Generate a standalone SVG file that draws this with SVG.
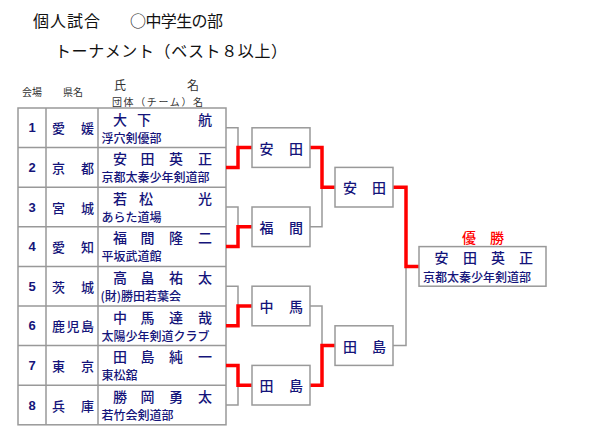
<svg xmlns="http://www.w3.org/2000/svg" width="600" height="440" viewBox="0 0 600 440">
<style>
  text { font-family: "Noto Sans CJK JP", "Noto Sans", sans-serif; dominant-baseline: central; }
  .title { font-size: 16px; fill: #111; }
  .hdr { font-size: 10px; fill: #333; }
  .hdr2 { font-size: 12px; fill: #333; }
  .num { font-family: "Liberation Sans", Arial, sans-serif; font-size: 13px; font-weight: bold; fill: #14147a; text-anchor: middle; }
  .pref { font-size: 13px; font-weight: 500; fill: #14147a; text-anchor: middle; }
  .nm { font-size: 14px; font-weight: 500; fill: #14147a; text-anchor: middle; }
  .team { font-size: 12px; font-weight: 500; fill: #14147a; }
  .win { font-size: 14px; font-weight: 500; fill: #ff0000; text-anchor: middle; }
  .cell { fill: #fff; stroke: #999; stroke-width: 1.5; }
  .box { fill: #fff; stroke: #999; stroke-width: 1.5; }
  .g { fill: none; stroke: #999; stroke-width: 1.5; }
  .r { fill: none; stroke: #ff0000; stroke-width: 3.5; }
</style>
<rect width="600" height="440" fill="#fff"/>

<g id="title">
  <text class="title" x="33" y="20" textLength="67">個人試合</text>
  <text class="title" x="130" y="20" textLength="93">○中学生の部</text>
  <text class="title" x="55" y="50" textLength="232">トーナメント（ベスト８以上）</text>
</g>

<g id="header">
  <text class="hdr" x="32" y="91" text-anchor="middle">会場</text>
  <text class="hdr" x="73" y="91" text-anchor="middle">県名</text>
  <text class="hdr2" x="120" y="84" text-anchor="middle">氏</text>
  <text class="hdr2" x="193" y="84" text-anchor="middle">名</text>
  <text class="hdr" x="112" y="101" textLength="91">団体（チーム）名</text>
</g>

<g id="table">
  <rect class="cell" x="18" y="108" width="208" height="316.8"/>
  <path class="g" d="M46 108V424.8M98 108V424.8M18 147.6H226M18 187.2H226M18 226.8H226M18 266.4H226M18 306H226M18 345.6H226M18 385.2H226"/>
</g>

<g id="row1">
  <text class="num" x="32" y="127.8">1</text>
  <text class="pref" x="58.5" y="127.8">愛</text><text class="pref" x="87.5" y="127.8">媛</text>
  <text class="nm" x="120" y="118.5">大</text><text class="nm" x="144" y="118.5">下</text><text class="nm" x="205" y="118.5">航</text>
  <text class="team" x="101.5" y="137">浮穴剣優部</text>
</g>
<g id="row2">
  <text class="num" x="32" y="167.4">2</text>
  <text class="pref" x="58.5" y="167.4">京</text><text class="pref" x="87.5" y="167.4">都</text>
  <text class="nm" x="120" y="158.1">安</text><text class="nm" x="147.5" y="158.1">田</text><text class="nm" x="176" y="158.1">英</text><text class="nm" x="205" y="158.1">正</text>
  <text class="team" x="101.5" y="176.6">京都太秦少年剣道部</text>
</g>
<g id="row3">
  <text class="num" x="32" y="207">3</text>
  <text class="pref" x="58.5" y="207">宮</text><text class="pref" x="87.5" y="207">城</text>
  <text class="nm" x="120" y="197.7">若</text><text class="nm" x="146" y="197.7">松</text><text class="nm" x="205" y="197.7">光</text>
  <text class="team" x="101.5" y="216.2">あらた道場</text>
</g>
<g id="row4">
  <text class="num" x="32" y="246.6">4</text>
  <text class="pref" x="58.5" y="246.6">愛</text><text class="pref" x="87.5" y="246.6">知</text>
  <text class="nm" x="120" y="237.3">福</text><text class="nm" x="147.5" y="237.3">間</text><text class="nm" x="176" y="237.3">隆</text><text class="nm" x="205" y="237.3">二</text>
  <text class="team" x="101.5" y="255.8">平坂武道館</text>
</g>
<g id="row5">
  <text class="num" x="32" y="286.2">5</text>
  <text class="pref" x="58.5" y="286.2">茨</text><text class="pref" x="87.5" y="286.2">城</text>
  <text class="nm" x="120" y="276.9">高</text><text class="nm" x="147.5" y="276.9">畠</text><text class="nm" x="176" y="276.9">祐</text><text class="nm" x="205" y="276.9">太</text>
  <text class="team" x="100.5" y="295.4">(財)勝田若葉会</text>
</g>
<g id="row6">
  <text class="num" x="32" y="325.8">6</text>
  <text class="pref" x="58.5" y="325.8">鹿</text><text class="pref" x="73" y="325.8">児</text><text class="pref" x="87.5" y="325.8">島</text>
  <text class="nm" x="120" y="316.5">中</text><text class="nm" x="147.5" y="316.5">馬</text><text class="nm" x="176" y="316.5">達</text><text class="nm" x="205" y="316.5">哉</text>
  <text class="team" x="101.5" y="335">太陽少年剣道クラブ</text>
</g>
<g id="row7">
  <text class="num" x="32" y="365.4">7</text>
  <text class="pref" x="58.5" y="365.4">東</text><text class="pref" x="87.5" y="365.4">京</text>
  <text class="nm" x="120" y="356.1">田</text><text class="nm" x="147.5" y="356.1">島</text><text class="nm" x="176" y="356.1">純</text><text class="nm" x="205" y="356.1">一</text>
  <text class="team" x="101.5" y="374.6">東松舘</text>
</g>
<g id="row8">
  <text class="num" x="32" y="405">8</text>
  <text class="pref" x="58.5" y="405">兵</text><text class="pref" x="87.5" y="405">庫</text>
  <text class="nm" x="120" y="395.7">勝</text><text class="nm" x="147.5" y="395.7">岡</text><text class="nm" x="176" y="395.7">勇</text><text class="nm" x="205" y="395.7">太</text>
  <text class="team" x="101.5" y="414.2">若竹会剣道部</text>
</g>

<g id="connectors">
  <path class="g" d="M226 127.8H238V147.6"/>
  <path class="g" d="M226 207H238V226.8"/>
  <path class="g" d="M226 286.2H238V306"/>
  <path class="g" d="M226 405H238V385.2"/>
  <path class="g" d="M310 226.8H322V187.2"/>
  <path class="g" d="M310 306H322V345.6"/>
  <path class="g" d="M393 345.6H406V266.4"/>
  <path class="r" d="M226 167.4H238V147.6H252"/>
  <path class="r" d="M226 246.6H238V226.8H252"/>
  <path class="r" d="M226 325.8H238V306H252"/>
  <path class="r" d="M226 365.4H238V385.2H252"/>
  <path class="r" d="M310 147.6H322V187.2H335"/>
  <path class="r" d="M310 385.2H322V345.6H335"/>
  <path class="r" d="M393 187.2H406V266.4H419"/>
</g>

<g id="r1-yasuda">
  <rect class="box" x="252" y="127.8" width="58" height="39.6"/>
  <text class="nm" x="266.5" y="147.6">安</text><text class="nm" x="296" y="147.6">田</text>
</g>
<g id="r1-fukuma">
  <rect class="box" x="252" y="207" width="58" height="39.6"/>
  <text class="nm" x="266.5" y="226.8">福</text><text class="nm" x="296" y="226.8">間</text>
</g>
<g id="r1-nakama">
  <rect class="box" x="252" y="286.2" width="58" height="39.6"/>
  <text class="nm" x="266.5" y="306">中</text><text class="nm" x="296" y="306">馬</text>
</g>
<g id="r1-tajima">
  <rect class="box" x="252" y="365.4" width="58" height="39.6"/>
  <text class="nm" x="266.5" y="385.2">田</text><text class="nm" x="296" y="385.2">島</text>
</g>
<g id="sf-yasuda">
  <rect class="box" x="335" y="167.4" width="58" height="39.6"/>
  <text class="nm" x="350" y="187.2">安</text><text class="nm" x="379" y="187.2">田</text>
</g>
<g id="sf-tajima">
  <rect class="box" x="335" y="325.8" width="58" height="39.6"/>
  <text class="nm" x="350" y="345.6">田</text><text class="nm" x="379" y="345.6">島</text>
</g>
<g id="champion">
  <text class="win" x="469" y="237">優</text><text class="win" x="497" y="237">勝</text>
  <rect class="box" x="419" y="246.6" width="127" height="39.6"/>
  <text class="nm" x="441.5" y="257">安</text><text class="nm" x="470" y="257">田</text><text class="nm" x="498" y="257">英</text><text class="nm" x="526" y="257">正</text>
  <text class="team" x="423" y="276">京都太秦少年剣道部</text>
</g>
</svg>
